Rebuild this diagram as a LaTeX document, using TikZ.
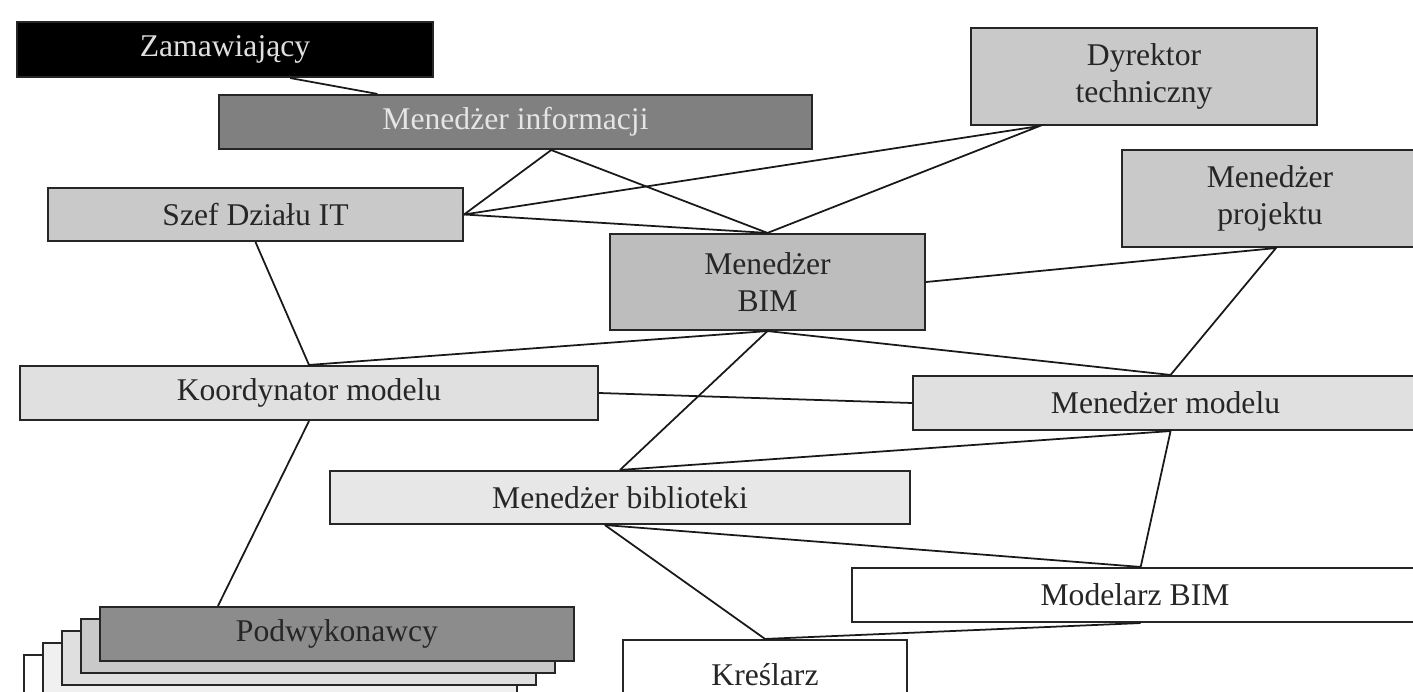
\documentclass[tikz,border=0pt]{standalone}
\usepackage{fontspec}
\setmainfont{Liberation Serif}
\usepackage{tikz}
\usetikzlibrary{calc}
\definecolor{infogray}{gray}{0.50}
\definecolor{lightgray}{gray}{0.79}
\definecolor{bimgray}{gray}{0.74}
\definecolor{palegray}{gray}{0.88}
\definecolor{subgray}{gray}{0.55}
\newcommand{\boxfont}{\fontsize{18}{21}\selectfont}
\tikzset{box/.style={draw=black!85, line width=1.2pt, inner sep=0pt, align=center, font=\boxfont, text=black!85},
         wh/.style 2 args={minimum width={#1*0.02cm}, minimum height={#2*0.02cm}},
         conn/.style={black!90, line width=1pt}}

\begin{document}
\begin{tikzpicture}[x=0.02cm,y=-0.02cm]
\clip (0,0) rectangle (1413,692);
\fill[white] (0,0) rectangle (1413,692);
% boxes
\node[box, fill=black, text=white!88!black, wh={416}{55}] (zam) at (225,49.5) {Zamawiający};
\node[box, fill=infogray, text=white!90!black, wh={593}{54}] (info) at (515.5,122) {Menedżer informacji};
\node[box, fill=lightgray, wh={346}{97}] (dyr) at (1144,76.5) {Dyrektor\\techniczny};
\node[box, fill=lightgray, wh={296}{97}] (proj) at (1270,198.5) {Menedżer\\projektu};
\node[box, fill=lightgray, wh={415}{53}] (szef) at (255.5,214.5) {Szef Działu IT};
\node[box, fill=bimgray, wh={315}{96}] (bim) at (767.5,282) {Menedżer\\BIM};
\node[box, fill=palegray, wh={578}{54}] (koord) at (309,393) {Koordynator modelu};
\node[box, fill=palegray, wh={505}{54}] (model) at (1165.5,403) {Menedżer modelu};
\node[box, fill=palegray!80, wh={580}{53}] (bibl) at (620,497.5) {Menedżer biblioteki};
\node[box, fill=white, wh={566}{54}] (modelarz) at (1135,595) {Modelarz BIM};
\node[box, fill=white, wh={284}{70}] (kresl) at (765,675) {Kreślarz};
% stack of subcontractors
\foreach \i/\c in {4/white,3/gray!12,2/gray!25,1/gray!42}
  \node[box, fill=\c, wh={474}{54}] (podw\i) at (337-19*\i,634+12*\i) {};
\node[box, fill=subgray, wh={474}{54}] (podw) at (337,634) {Podwykonawcy};
% connectors
\draw[conn] ($(zam.south west)!0.656!(zam.south east)$) -- ($(info.north west)!0.268!(info.north east)$);
\draw[conn] (szef.east) -- ($(info.south west)!0.56!(info.south east)$) -- (bim.north);
\draw[conn] (szef.east) -- ($(dyr.south west)!0.2!(dyr.south east)$) -- (bim.north);
\draw[conn] (szef.east) -- (bim.north);
\draw[conn] (bim.east) -- ($(proj.south west)!0.52!(proj.south east)$) -- ($(model.north west)!0.51!(model.north east)$);
\draw[conn] (szef.south) -- (koord.north) -- (bim.south) -- ($(model.north west)!0.51!(model.north east)$);
\draw[conn] (bim.south) -- (bibl.north);
\draw[conn] (koord.east) -- (model.west);
\draw[conn] (koord.south) -- ($(podw.north west)!0.25!(podw.north east)$);
\draw[conn] (bibl.north) -- ($(model.south west)!0.51!(model.south east)$) -- ($(modelarz.north west)!0.51!(modelarz.north east)$);
\draw[conn] ($(bibl.south west)!0.474!(bibl.south east)$) -- ($(modelarz.north west)!0.51!(modelarz.north east)$);
\draw[conn] ($(bibl.south west)!0.474!(bibl.south east)$) -- (kresl.north) -- ($(modelarz.south west)!0.51!(modelarz.south east)$);
\end{tikzpicture}
\end{document}
